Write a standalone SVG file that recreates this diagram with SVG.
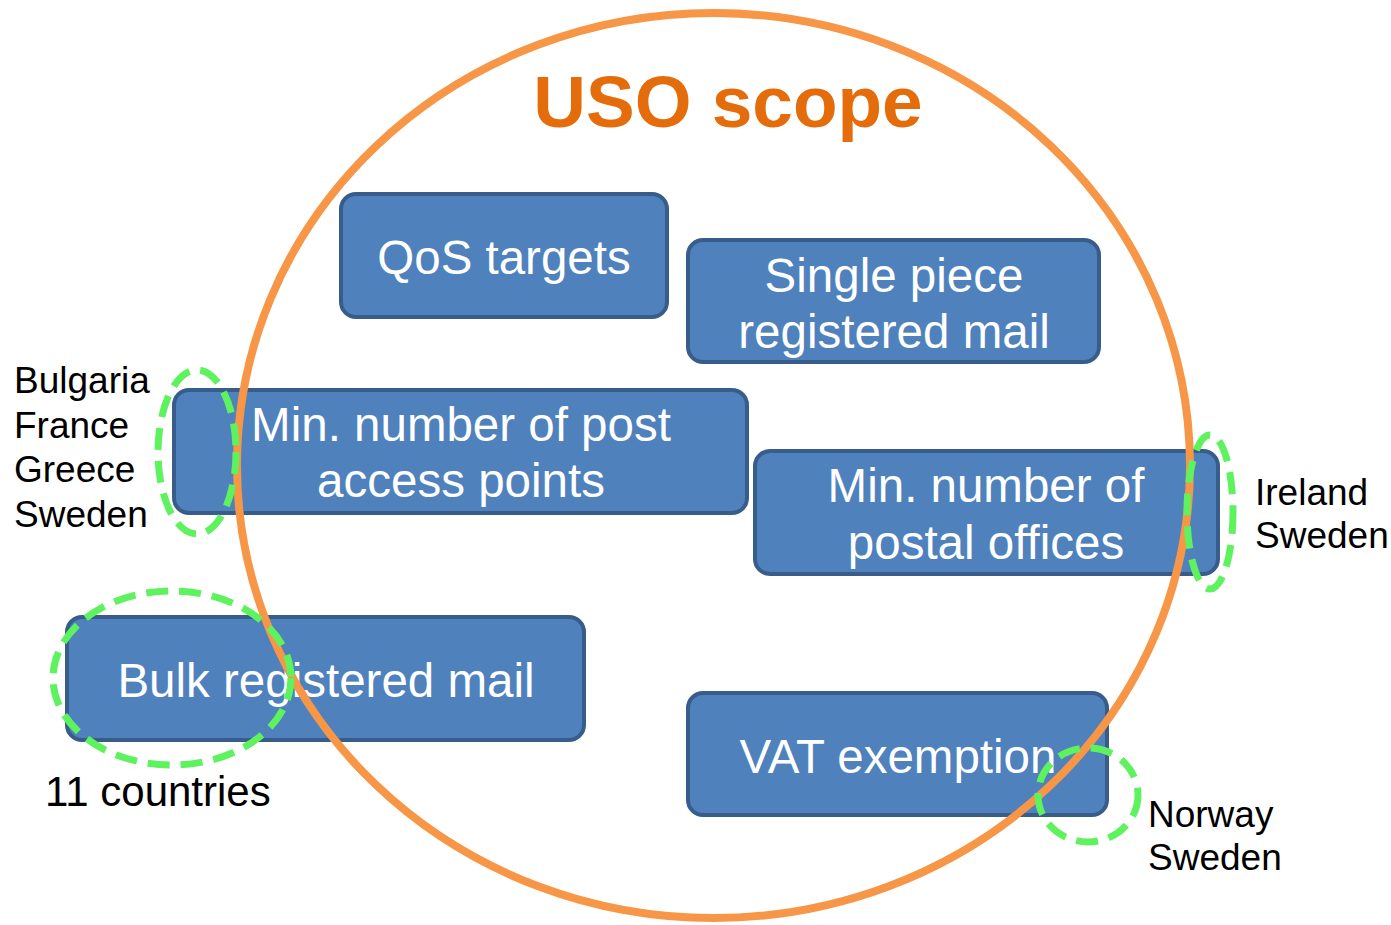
<svg xmlns="http://www.w3.org/2000/svg" width="1391" height="925" viewBox="0 0 1391 925">
<style>
.box{fill:#4f81bd;stroke:#385d8a;stroke-width:4}
.bt{fill:#ffffff;font-family:"Liberation Sans",Arial,sans-serif;font-size:47.5px;text-anchor:middle}
.lbl{fill:#000000;font-family:"Liberation Sans",Arial,sans-serif;font-size:37px}
.grn{fill:none;stroke:#5ef35e;stroke-width:7;stroke-dasharray:22 11}
</style>
<rect width="1391" height="925" fill="#ffffff"/>
<g id="qos"><rect class="box" x="341" y="194" width="326" height="123" rx="15"/><text class="bt" x="504" y="274">QoS targets</text></g>
<g id="single"><rect class="box" x="688" y="240" width="411" height="122" rx="15"/><text class="bt" x="894" y="292">Single piece</text><text class="bt" x="894" y="348">registered mail</text></g>
<g id="access"><rect class="box" x="174" y="390" width="573" height="123" rx="15"/><text class="bt" x="461" y="441">Min. number of post</text><text class="bt" x="461" y="497">access points</text></g>
<g id="offices"><rect class="box" x="755" y="451" width="463" height="123" rx="15"/><text class="bt" x="986" y="502">Min. number of</text><text class="bt" x="986" y="559">postal offices</text></g>
<g id="bulk"><rect class="box" x="67" y="617" width="517" height="123" rx="15"/><text class="bt" x="326" y="697">Bulk registered mail</text></g>
<g id="vat"><rect class="box" x="688" y="693" width="419" height="122" rx="15"/><text class="bt" x="898" y="773">VAT exemption</text></g>
<g id="scope"><ellipse cx="713.5" cy="465.5" rx="476.5" ry="452.5" fill="none" stroke="#f79646" stroke-width="8"/><text x="728" y="127" font-family="'Liberation Sans',Arial,sans-serif" font-size="73" font-weight="bold" fill="#e46c0a" text-anchor="middle">USO scope</text></g>
<g id="highlights">
<ellipse class="grn" cx="197" cy="452" rx="39" ry="82"/>
<ellipse class="grn" cx="172" cy="678" rx="119" ry="87"/>
<ellipse class="grn" cx="1210" cy="512" rx="23" ry="77"/>
<ellipse class="grn" cx="1088" cy="795" rx="50" ry="47"/>
</g>
<g id="labels">
<text class="lbl" x="14" y="393">Bulgaria</text>
<text class="lbl" x="14" y="438">France</text>
<text class="lbl" x="14" y="482">Greece</text>
<text class="lbl" x="14" y="527">Sweden</text>
<text class="lbl" x="45" y="806" style="font-size:42px">11 countries</text>
<text class="lbl" x="1255" y="505">Ireland</text>
<text class="lbl" x="1255" y="548">Sweden</text>
<text class="lbl" x="1148" y="827">Norway</text>
<text class="lbl" x="1148" y="870">Sweden</text>
</g>
</svg>
